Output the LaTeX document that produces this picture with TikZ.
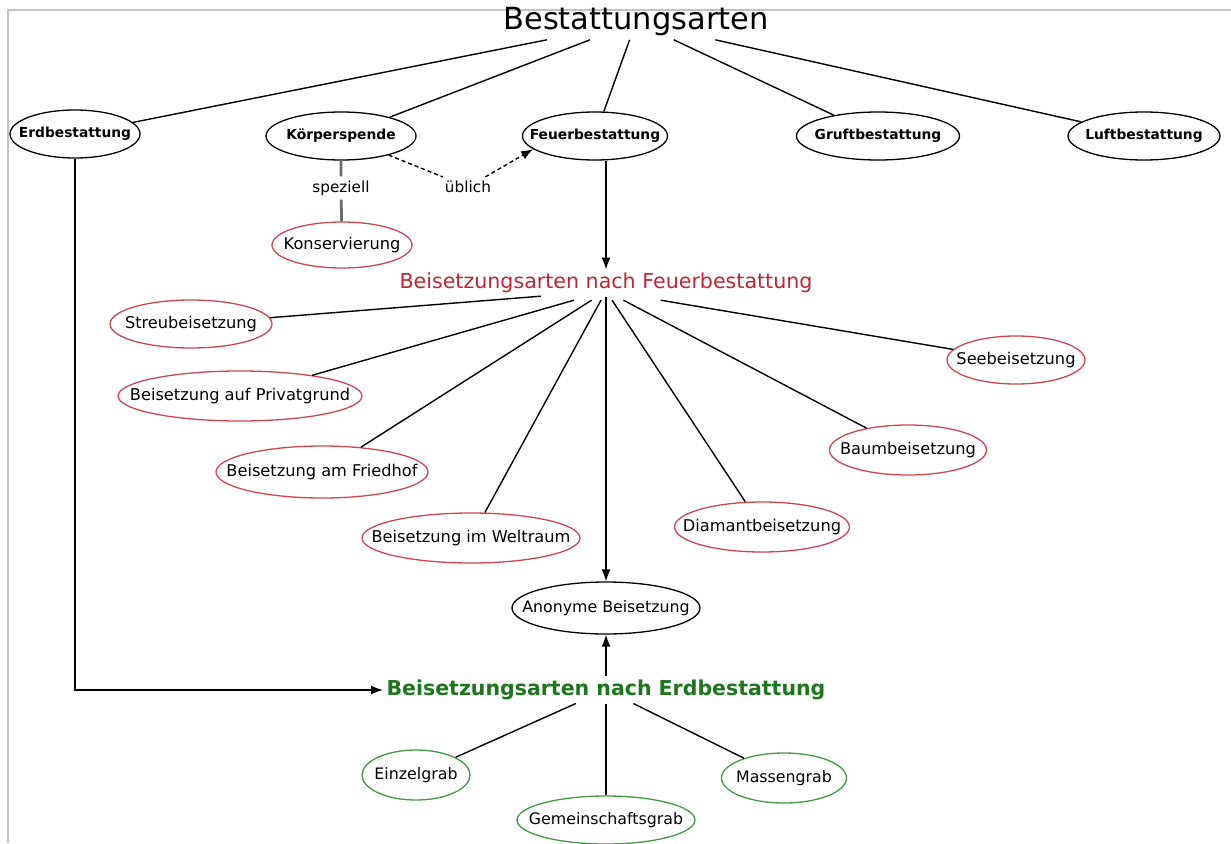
\documentclass[tikz,border=0pt]{standalone}
\usepackage{fontspec}
\setmainfont{DejaVu Sans}
\usetikzlibrary{shapes.geometric,arrows.meta}
\definecolor{rotB}{RGB}{190,38,50}
\definecolor{rotR}{RGB}{205,70,80}
\definecolor{gruenB}{RGB}{28,118,28}
\definecolor{gruenR}{RGB}{70,150,70}
\definecolor{rahmen}{RGB}{195,195,195}
\newcommand{\nb}[1]{\makebox[0pt]{#1}}
\tikzset{
  oval/.style={ellipse,draw,line width=1.3pt,inner sep=0pt,minimum height=48},
  hauptoval/.style={oval,font=\bfseries\fontsize{13.8}{16}\selectfont},
  rotoval/.style={oval,draw=rotR,font=\fontsize{16.2}{19}\selectfont},
  gruenoval/.style={oval,draw=gruenR,font=\fontsize{15.8}{19}\selectfont},
  schwoval/.style={oval,font=\fontsize{15.8}{19}\selectfont},
  marke/.style={font=\fontsize{15.3}{18}\selectfont,inner sep=4pt},
  hub/.style={minimum width=130,minimum height=18,inner sep=0pt},
  linie/.style={line width=1.4pt},
  pfeil/.style={line width=1.4pt,-{Latex[length=12pt,width=9pt]}}
}
\begin{document}
\begin{tikzpicture}[x=1pt,y=-1pt]
\useasboundingbox (0,0) rectangle (1231,843);
\draw[rahmen,line width=2pt] (7.5,843) -- (7.5,10) -- (1231,10); % khung
% hàng trên
\node[font=\fontsize{30.5}{36}\selectfont] (titel) at (636,22) {Bestattungsarten};
\node[hauptoval,minimum width=130] (erd) at (75,134) {\nb{Erdbestattung}};
\node[hauptoval,minimum width=150] (kp) at (341,136) {\nb{Körperspende}};
\node[hauptoval,minimum width=145] (feuer) at (595,136) {\nb{Feuerbestattung}};
\node[hauptoval,minimum width=163] (gruft) at (878,136) {\nb{Gruftbestattung}};
\node[hauptoval,minimum width=152] (luft) at (1144,136) {\nb{Luftbestattung}};
\foreach \z in {erd,kp,feuer,gruft,luft}
  \draw[linie] (titel) -- (\z);
% Körperspende
\node[rotoval,minimum width=140,minimum height=46] (kons) at (342,245) {\nb{Konservierung}};
\node[marke] (spez) at (341,188) {speziell};
\node[marke] (ueb) at (468,187) {üblich};
\draw[gray!85!black,line width=2.8pt] (kp) -- (spez) -- (kons);
\draw[linie,dash pattern=on 4pt off 3pt] (kp) -- (ueb);
\draw[pfeil,dash pattern=on 4pt off 3pt] (ueb) -- (feuer.192);
% nach Feuerbestattung
\node[text=rotB,font=\fontsize{20.6}{24}\selectfont] (rhF) at (606,283) {Beisetzungsarten nach Feuerbestattung};
\node[hub] (fanF) at (606,291) {};
\draw[pfeil] (feuer.south -| rhF) -- (rhF);
\node[rotoval,minimum width=162] (streu) at (191,324) {\nb{Streubeisetzung}};
\node[rotoval,minimum width=138] (see) at (1016,360) {\nb{Seebeisetzung}};
\node[rotoval,minimum width=244,minimum height=50] (privat) at (240,396) {\nb{Beisetzung auf Privatgrund}};
\node[rotoval,minimum width=157,minimum height=50] (baum) at (908,450) {\nb{Baumbeisetzung}};
\node[rotoval,minimum width=212,minimum height=52] (friedhof) at (322,472) {\nb{Beisetzung am Friedhof}};
\node[rotoval,minimum width=175,minimum height=50] (diamant) at (762,527) {\nb{Diamantbeisetzung}};
\node[rotoval,minimum width=218,minimum height=50] (welt) at (471,538) {\nb{Beisetzung im Weltraum}};
\foreach \z in {streu,privat,friedhof,welt,diamant,baum,see}
  \draw[linie] (fanF) -- (\z);
\node[schwoval,minimum width=188,minimum height=52] (anon) at (606,608) {\nb{Anonyme Beisetzung}};
\draw[pfeil] (rhF) -- (anon);
% nach Erdbestattung
\node[text=gruenB,font=\bfseries\fontsize{20.5}{24}\selectfont] (rhE) at (606,690) {Beisetzungsarten nach Erdbestattung};
\draw[pfeil] (erd) |- (rhE);
\draw[pfeil] (rhE) -- (anon);
\node[gruenoval,minimum width=108,minimum height=50] (einzel) at (416,775) {\nb{Einzelgrab}};
\node[gruenoval,minimum width=178,minimum height=48] (gemein) at (606,820) {\nb{Gemeinschaftsgrab}};
\node[gruenoval,minimum width=125,minimum height=50] (massen) at (784,778) {\nb{Massengrab}};
\foreach \z in {einzel,gemein,massen}
  \draw[linie] (rhE) -- (\z);
\end{tikzpicture}
\end{document}
